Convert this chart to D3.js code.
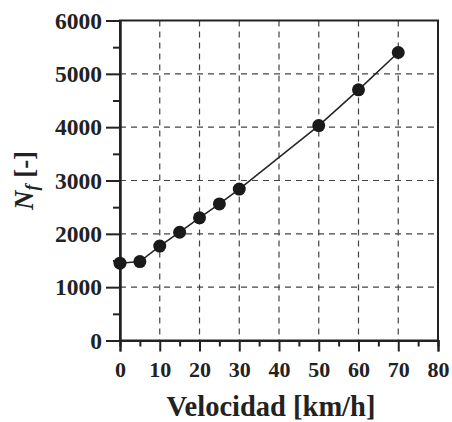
<!DOCTYPE html>
<html lang="en">
<head>
    <meta charset="UTF-8">
    <title>Nf vs Velocidad</title>
    <script src="https://d3js.org/d3.v7.min.js"></script>
    <style>
        body { margin: 0; background: white; }
    </style>
</head>
<body>
    <script>
        // Data
        const velocidad = [0, 5, 10, 15, 20, 25, 30, 50, 60, 70];
        const nf = [1450, 1480, 1770, 2030, 2300, 2560, 2840, 4030, 4700, 5400];
        const xTicks = [0, 10, 20, 30, 40, 50, 60, 70, 80];
        const yTicks = [0, 1000, 2000, 3000, 4000, 5000, 6000];
        const xMinor = d3.range(5, 80, 10);
        const yMinor = d3.range(500, 6000, 1000);

        const W = 452, H = 422;
        const margin = {top: 20.5, right: 14, bottom: 81.5, left: 120};
        const width = W - margin.left - margin.right;
        const height = H - margin.top - margin.bottom;
        const serif = "'Liberation Serif', 'Times New Roman', serif";

        const svg = d3.select("body").append("svg")
            .attr("width", W)
            .attr("height", H)
          .append("g")
            .attr("transform", `translate(${margin.left},${margin.top})`);

        const x = d3.scaleLinear().domain([0, 80]).range([0, width]);
        const y = d3.scaleLinear().domain([0, 6000]).range([height, 0]);

        // dashed grid
        svg.append("g").selectAll("line")
            .data(xTicks.filter(d => d > 0 && d < 80))
            .join("line")
            .attr("x1", d => x(d)).attr("x2", d => x(d))
            .attr("y1", 0).attr("y2", height)
            .attr("stroke", "#444").attr("stroke-width", 1.2)
            .attr("stroke-dasharray", "6,5");
        svg.append("g").selectAll("line")
            .data(yTicks.filter(d => d > 0 && d < 6000))
            .join("line")
            .attr("x1", 0).attr("x2", width)
            .attr("y1", d => y(d)).attr("y2", d => y(d))
            .attr("stroke", "#444").attr("stroke-width", 1.2)
            .attr("stroke-dasharray", "6,5");

        // frame (top/right)
        svg.append("rect")
            .attr("width", width).attr("height", height)
            .attr("fill", "none").attr("stroke", "#222").attr("stroke-width", 2);

        // axes
        const xAxis = svg.append("g")
            .attr("transform", `translate(0,${height})`)
            .call(d3.axisBottom(x).tickValues(xTicks).tickSize(11).tickPadding(10).tickFormat(d3.format("d")));
        svg.append("g")
            .attr("transform", `translate(0,${height})`)
            .call(d3.axisBottom(x).tickValues(xMinor).tickSize(6).tickFormat(""));
        const yAxis = svg.append("g")
            .call(d3.axisLeft(y).tickValues(yTicks).tickSize(14).tickPadding(4).tickFormat(d3.format("d")));
        svg.append("g")
            .call(d3.axisLeft(y).tickValues(yMinor).tickSize(7).tickFormat(""));

        xAxis.selectAll(".tick text")
            .style("font-family", serif).style("font-size", "22px").style("font-weight", "bold");
        yAxis.selectAll(".tick text")
            .style("font-family", serif).style("font-size", "23.5px").style("font-weight", "bold");
        svg.selectAll(".tick text").attr("fill", "#222");

        svg.selectAll(".domain").attr("stroke", "#222").attr("stroke-width", 2);
        svg.selectAll(".tick line").attr("stroke", "#222").attr("stroke-width", 2);

        // data line + markers
        const pts = velocidad.map((v, i) => [v, nf[i]]);
        svg.append("path")
            .datum(pts)
            .attr("fill", "none")
            .attr("stroke", "#222")
            .attr("stroke-width", 1.5)
            .attr("d", d3.line().x(d => x(d[0])).y(d => y(d[1])));
        svg.selectAll(".pt")
            .data(pts)
            .join("circle")
            .attr("class", "pt")
            .attr("cx", d => x(d[0]))
            .attr("cy", d => y(d[1]))
            .attr("r", 6.5)
            .attr("fill", "#1a1a1a");

        // axis titles
        svg.append("text")
            .attr("x", 271 - margin.left)
            .attr("y", 416 - margin.top)
            .attr("text-anchor", "middle")
            .attr("font-family", serif)
            .attr("font-weight", "bold")
            .attr("font-size", 28.5)
            .attr("fill", "#222")
            .text("Velocidad [km/h]");

        const yTitle = svg.append("text")
            .attr("transform", `translate(${33 - margin.left},${height / 2}) rotate(-90)`)
            .attr("text-anchor", "middle")
            .attr("font-family", serif)
            .attr("font-weight", "bold")
            .attr("font-size", 27)
            .attr("fill", "#222");
        yTitle.append("tspan").attr("font-style", "italic").text("N");
        yTitle.append("tspan").attr("font-style", "italic").attr("font-size", 18).attr("dy", 5).text("f");
        yTitle.append("tspan").attr("dy", -5).text(" [-]");
    </script>
</body>
</html>
